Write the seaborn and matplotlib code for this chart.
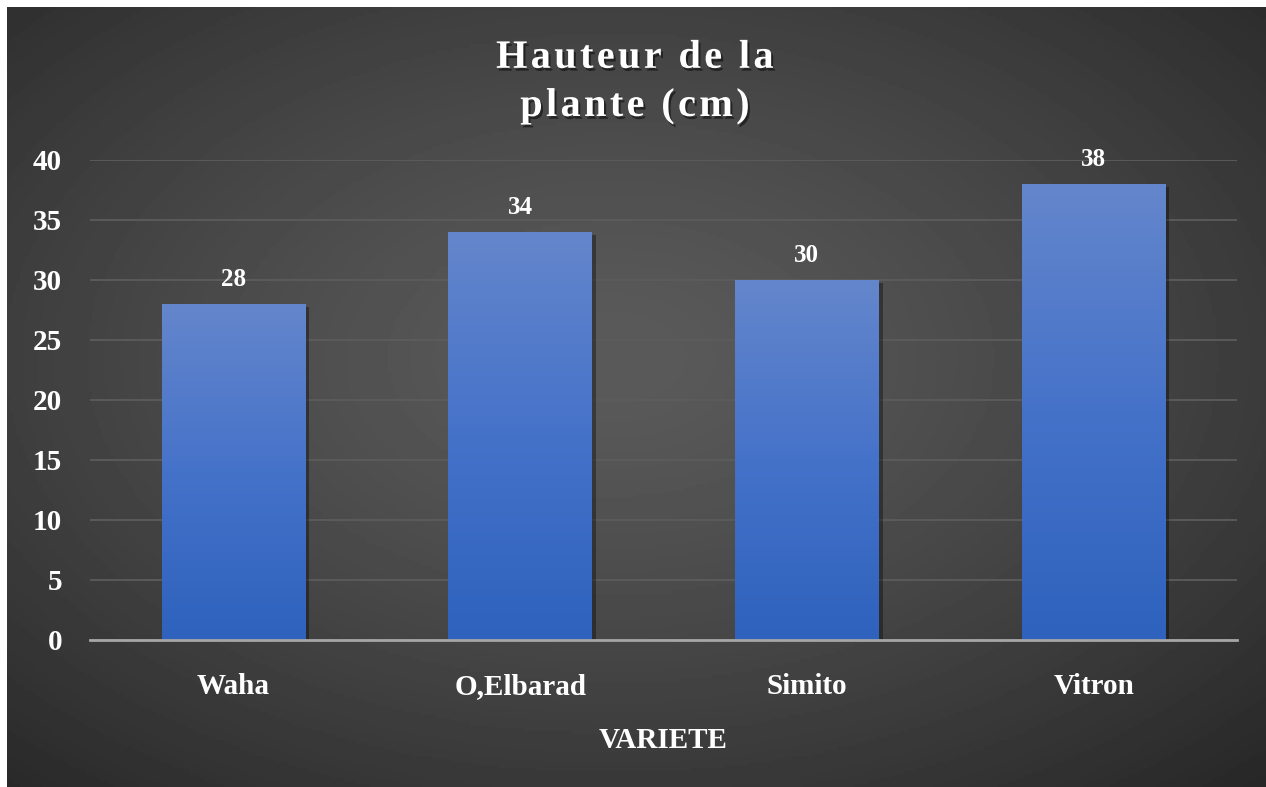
import numpy as np
import matplotlib.pyplot as plt
import seaborn as sns
from matplotlib import patheffects as pe
from matplotlib.colors import LinearSegmentedColormap

# Data
varietes = ['Waha', 'O,Elbarad', 'Simito', 'Vitron']
hauteurs = [28, 34, 30, 38]
y_ticks = [0, 5, 10, 15, 20, 25, 30, 35, 40]
titre = 'Hauteur de la\nplante (cm)'
x_titre = 'VARIETE'

sns.set_theme(style='dark')
plt.rcParams['font.family'] = ['Liberation Serif', 'DejaVu Serif']
plt.rcParams['font.weight'] = 'bold'

W, H = 1266, 787
fig = plt.figure(figsize=(W / 100, H / 100), dpi=100)
fig.patch.set_facecolor('white')

# dark radial background (white strip on top and left)
bg = fig.add_axes([7 / W, 0, 1 - 7 / W, 1 - 7 / H])
gx, gy = np.meshgrid(np.linspace(0, 1, 400), np.linspace(0, 1, 250))
r = np.sqrt(((gx - 0.48) / 0.75) ** 2 + ((gy - 0.45) / 0.75) ** 2)
val = 0.355 - 0.2 * np.clip(r, 0, 1) ** 1.3
bg.imshow(val, cmap='gray', vmin=0, vmax=1, aspect='auto', extent=(0, 1, 1, 0))
bg.axis('off')

# plot area
ax = fig.add_axes([90 / W, 1 - 640 / H, (1237 - 90) / W, 480 / H])
ax.set_facecolor('none')
sns.barplot(x=varietes, y=hauteurs, width=0.5, color='#2e62bd', ax=ax, zorder=2)

bar_cmap = LinearSegmentedColormap.from_list('bar', ['#2e62bd', '#4572c9', '#6486cc'])
shadow = [pe.SimplePatchShadow(offset=(3, -2), shadow_rgbFace='black', alpha=0.35), pe.Normal()]
for p in ax.patches:
    x0, w, h = p.get_x(), p.get_width(), p.get_height()
    p.set_edgecolor('none')
    p.set_linewidth(0)
    p.set_path_effects(shadow)
    grad = np.linspace(0, 1, 256).reshape(-1, 1)
    ax.imshow(grad, cmap=bar_cmap, aspect='auto', origin='lower',
              extent=(x0, x0 + w, 0, h), zorder=3)
    ax.annotate(f'{h:.0f}', (x0 + w / 2, h), xytext=(0, 9), textcoords='offset points',
                ha='center', va='bottom', color='white', fontsize=18, fontweight='bold')

ax.set_xlim(-0.5, 3.5)
ax.set_ylim(0, 40)
ax.set_yticks(y_ticks)
ax.yaxis.grid(True, color='#5c5c5c', linewidth=1.3, zorder=0)
ax.xaxis.grid(False)
for s in ['top', 'right', 'left']:
    ax.spines[s].set_visible(False)
ax.spines['bottom'].set_color('#a6a6a6')
ax.spines['bottom'].set_linewidth(2)
ax.spines['bottom'].set_zorder(4)
ax.tick_params(axis='y', length=0, pad=20, labelsize=21, labelcolor='white')
ax.tick_params(axis='x', length=0, pad=24, labelsize=21, labelcolor='white')
for lab in ax.get_xticklabels() + ax.get_yticklabels():
    lab.set_fontweight('bold')
ax.set_xlabel('')
ax.set_ylabel('')

fig.text(663 / W, 1 - 740 / H, x_titre, ha='center', va='center', color='white',
         fontsize=21, fontweight='bold')

# title with a little letter spacing (baseline = last line)
spaced = '\n'.join('\u200a'.join(line) for line in titre.split('\n'))
fig.text(635 / W, 1 - 116 / H, spaced, ha='center', va='baseline', color='white',
         fontsize=29, fontweight='bold', linespacing=1.4,
         path_effects=[pe.SimplePatchShadow(offset=(1.5, -2), shadow_rgbFace='black', alpha=0.5), pe.Normal()])

fig.savefig('out.png', dpi=100, facecolor=fig.get_facecolor())
